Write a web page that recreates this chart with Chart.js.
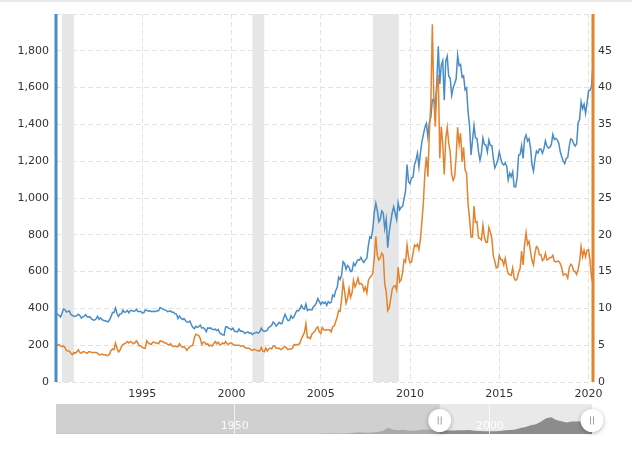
<!DOCTYPE html>
<html>
<head>
<meta charset="utf-8">
<script src="https://cdn.jsdelivr.net/npm/chart.js@4.4.0/dist/chart.umd.min.js"></script>
<style>
  body { margin: 0; background: #fff; }
  #wrap { position: relative; width: 632px; height: 455px; }
  #topline { position: absolute; left: 0; top: 0; width: 632px; height: 2px; background: #ebebeb; }
  #main { position: absolute; left: 0; top: 0; width: 632px; height: 400px; }
  #nav { position: absolute; left: 0; top: 404px; width: 632px; height: 41px; }
</style>
</head>
<body>
<div id="wrap">
  <div id="topline"></div>
  <div id="main"><canvas id="chart"></canvas></div>
  <div id="nav"><canvas id="navigator"></canvas></div>
</div>
<script>
// monthly closes, Mar 1990 .. Apr 2020
var firstYear = 1990, firstMonth = 3;

var gold = [
  375, 368, 363, 353, 372, 397, 393, 381, 383, 386,
  366, 363, 356, 357, 361, 368, 362, 347, 354, 358, 366, 353,
  354, 353, 341, 337, 337, 344, 357, 340, 349, 339, 334, 333,
  330, 327, 338, 355, 378, 378, 402, 372, 356, 370, 371, 391,
  378, 381, 389, 376, 388, 388, 384, 385, 395, 383, 383, 383,
  375, 376, 392, 389, 385, 387, 383, 383, 384, 383, 387, 387,
  405, 400, 396, 392, 390, 382, 385, 387, 379, 379, 371, 369,
  345, 358, 348, 340, 345, 334, 326, 325, 332, 311, 296, 290,
  303, 297, 301, 309, 293, 296, 288, 273, 294, 292, 294, 287,
  285, 287, 280, 286, 268, 262, 256, 255, 299, 300, 292, 290,
  284, 293, 276, 275, 273, 288, 276, 277, 273, 264, 270, 273,
  265, 267, 258, 264, 268, 270, 266, 273, 293, 279, 275, 277,
  282, 297, 301, 308, 326, 318, 304, 313, 324, 317, 319, 347,
  368, 347, 334, 336, 361, 346, 354, 375, 388, 386, 398, 417,
  400, 396, 424, 388, 393, 395, 391, 408, 416, 429, 453, 438,
  422, 435, 427, 435, 417, 437, 429, 433, 473, 465, 496, 513,
  569, 557, 582, 654, 643, 613, 633, 623, 600, 604, 646, 632,
  650, 665, 662, 677, 659, 650, 665, 673, 743, 789, 783, 834,
  923, 971, 933, 871, 885, 930, 919, 834, 884, 730, 814, 870,
  919, 952, 917, 884, 975, 935, 949, 955, 996, 1040, 1182, 1088,
  1078, 1109, 1113, 1180, 1207, 1244, 1169, 1246, 1307, 1346, 1384, 1405,
  1333, 1411, 1439, 1535, 1536, 1505, 1628, 1825, 1620, 1722, 1746, 1531,
  1744, 1770, 1662, 1651, 1558, 1598, 1622, 1648, 1776, 1719, 1726, 1657,
  1664, 1588, 1598, 1469, 1394, 1234, 1314, 1394, 1326, 1324, 1253, 1205,
  1244, 1326, 1291, 1288, 1250, 1315, 1285, 1285, 1216, 1164, 1182, 1206,
  1251, 1214, 1187, 1180, 1191, 1171, 1098, 1135, 1115, 1142, 1061, 1060,
  1111, 1234, 1237, 1285, 1215, 1321, 1342, 1309, 1322, 1273, 1178, 1146,
  1212, 1255, 1245, 1266, 1266, 1243, 1267, 1311, 1283, 1271, 1275, 1291,
  1345, 1318, 1325, 1316, 1298, 1251, 1224, 1201, 1187, 1215, 1220, 1279,
  1321, 1316, 1295, 1282, 1295, 1409, 1427, 1523, 1485, 1510, 1460, 1515,
  1582, 1585, 1608, 1725
];

var silver = [
  5.0, 5.0, 5.1, 4.9, 4.8, 4.9, 4.7, 4.3, 4.2, 4.2,
  3.9, 3.7, 4.0, 3.9, 4.1, 4.4, 4.0, 3.9, 4.1, 4.1, 4.0, 3.9,
  4.1, 4.1, 4.0, 4.0, 4.0, 4.0, 3.9, 3.7, 3.7, 3.8, 3.7, 3.7,
  3.6, 3.6, 3.8, 4.3, 4.5, 4.4, 5.3, 4.6, 4.1, 4.3, 4.8, 5.1,
  5.2, 5.3, 5.5, 5.3, 5.5, 5.4, 5.2, 5.3, 5.6, 5.3, 4.9, 4.9,
  4.7, 4.6, 4.6, 5.6, 5.3, 5.2, 5.1, 5.4, 5.4, 5.3, 5.3, 5.2,
  5.6, 5.5, 5.5, 5.3, 5.3, 5.1, 5.0, 5.2, 4.9, 4.8, 4.9, 4.8,
  4.8, 5.2, 4.9, 4.7, 4.8, 4.6, 4.3, 4.6, 4.8, 4.9, 5.0, 6.0,
  6.5, 6.4, 6.3, 5.9, 5.1, 5.4, 5.4, 5.1, 5.2, 4.9, 5.0, 4.9,
  5.2, 5.5, 5.2, 5.4, 5.1, 5.1, 5.3, 5.2, 5.5, 5.2, 5.1, 5.3,
  5.3, 5.1, 5.0, 5.0, 5.0, 5.0, 4.9, 4.9, 4.9, 4.7, 4.6, 4.6,
  4.6, 4.4, 4.3, 4.4, 4.4, 4.3, 4.2, 4.2, 4.7, 4.2, 4.1, 4.6,
  4.2, 4.5, 4.6, 4.5, 4.9, 4.9, 4.6, 4.6, 4.6, 4.4, 4.5, 4.7,
  4.8, 4.6, 4.4, 4.5, 4.5, 4.6, 5.1, 5.0, 5.1, 5.1, 5.3, 5.9,
  6.3, 6.7, 7.9, 6.0, 6.1, 5.9, 6.5, 6.7, 6.9, 7.3, 7.5, 6.8,
  6.6, 7.4, 7.1, 7.0, 7.1, 7.1, 7.1, 6.8, 7.5, 7.6, 8.2, 8.8,
  9.7, 9.6, 11.2, 13.6, 12.3, 10.7, 11.4, 12.7, 11.5, 12.1, 13.8, 12.9,
  13.4, 14.1, 13.3, 13.4, 13.2, 12.4, 12.9, 12.1, 13.8, 14.2, 14.4, 14.8,
  16.9, 19.8, 17.2, 16.6, 16.9, 17.5, 17.2, 13.4, 12.2, 9.7, 10.1, 11.3,
  12.6, 13.0, 13.1, 12.5, 15.6, 13.6, 13.9, 14.9, 16.6, 16.3, 18.6, 16.9,
  16.2, 16.3, 17.5, 18.6, 18.4, 18.7, 18.0, 19.4, 21.8, 24.5, 28.5, 30.6,
  27.9, 33.9, 37.9, 48.6, 38.3, 34.7, 40.0, 41.7, 30.4, 34.7, 32.3, 28.2,
  33.1, 34.6, 32.5, 31.2, 28.2, 27.4, 27.9, 30.6, 34.6, 32.3, 33.8, 29.9,
  31.9, 28.8, 28.4, 24.2, 22.3, 19.7, 19.7, 23.9, 21.7, 21.8, 19.6, 19.5,
  19.3, 21.3, 19.7, 19.0, 19.0, 21.0, 20.4, 19.5, 17.1, 16.4, 15.5, 15.6,
  17.2, 16.6, 16.6, 15.9, 16.8, 15.6, 14.7, 14.6, 14.5, 15.5, 14.1, 13.8,
  14.0, 14.9, 15.4, 17.8, 15.9, 18.6, 20.3, 18.7, 19.1, 17.7, 16.5, 15.9,
  17.5, 18.4, 18.2, 17.3, 17.3, 16.5, 16.7, 17.5, 16.6, 16.7, 16.9, 16.9,
  17.2, 16.4, 16.3, 16.4, 16.4, 16.1, 15.5, 14.5, 14.7, 14.6, 14.1, 15.5,
  16.0, 15.8, 15.1, 15.0, 14.6, 15.3, 16.4, 18.4, 17.0, 17.9, 17.0, 17.9,
  18.0, 16.5, 14.2, 15.2
];

// recessions (decimal years)
var recessionStart = [1990.5, 2001.17, 2007.92];
var recessionEnd = [1991.17, 2001.83, 2009.37];

var yearTicks = [1995, 2000, 2005, 2010, 2015, 2020];
var navTicks = [1950, 2000];

// navigator: yearly gold, 1915 .. 2020
var navYears = [];
for (var y = 1915; y <= 2020; y++) navYears.push(y);
var navGold = [
  20.67, 20.67, 20.67, 20.67, 20.67, 20.67, 20.67, 20.67, 20.67, 20.67,
  20.67, 20.67, 20.67, 20.67, 20.67, 20.67, 20.67, 20.67, 26.3, 34.7,
  35, 35, 35, 35, 35, 35, 35, 35, 35, 35,
  35, 35, 35, 35, 35, 35, 35, 35, 35, 35,
  35, 35, 35, 35, 35, 35, 35, 35, 35, 35,
  35, 35, 35, 39.3, 41.3, 36.0, 40.8, 58.2, 97.3, 154,
  161, 125, 148, 193, 306, 615, 460, 376, 424, 361,
  317, 368, 447, 437, 381, 383, 362, 344, 360, 384,
  384, 388, 331, 294, 279, 279, 271, 310, 363, 410,
  445, 604, 696, 872, 972, 1225, 1572, 1669, 1411, 1266,
  1160, 1251, 1257, 1268, 1393, 1720
];

var months = [];
for (var i = 0; i < gold.length; i++) {
  months.push(firstYear + (firstMonth - 1 + i) / 12);
}

var blue = '#4a8cc6';
var orange = '#e3832f';
var font = { family: "'DejaVu Sans', Verdana, sans-serif", size: 11 };

var recessions = {
  id: 'recessions',
  beforeDatasetsDraw: function (chart) {
    var ctx = chart.ctx, a = chart.chartArea, x = chart.scales.x;
    ctx.save();
    ctx.fillStyle = '#e6e6e6';
    for (var i = 0; i < recessionStart.length; i++) {
      var x1 = x.getPixelForValue(recessionStart[i]);
      var x2 = x.getPixelForValue(recessionEnd[i]);
      ctx.fillRect(x1, a.top, x2 - x1, a.bottom - a.top);
    }
    ctx.restore();
  },
  afterDraw: function (chart) {
    // coloured axis lines
    var ctx = chart.ctx, a = chart.chartArea;
    ctx.save();
    ctx.lineWidth = 3;
    ctx.strokeStyle = blue;
    ctx.beginPath(); ctx.moveTo(a.left, a.top); ctx.lineTo(a.left, a.bottom); ctx.stroke();
    ctx.strokeStyle = orange;
    ctx.beginPath(); ctx.moveTo(a.right, a.top); ctx.lineTo(a.right, a.bottom); ctx.stroke();
    ctx.restore();
  }
};

new Chart(document.getElementById('chart'), {
  type: 'line',
  data: {
    labels: months,
    datasets: [{
      label: 'Gold',
      data: gold,
      yAxisID: 'y',
      borderColor: blue,
      borderWidth: 1.5,
      pointRadius: 0,
      tension: 0,
      order: 2
    }, {
      label: 'Silver',
      data: silver,
      yAxisID: 'y1',
      borderColor: orange,
      borderWidth: 1.5,
      pointRadius: 0,
      tension: 0,
      order: 1
    }]
  },
  options: {
    responsive: true,
    maintainAspectRatio: false,
    animation: false,
    layout: { padding: { top: 14 } },
    plugins: { legend: { display: false }, tooltip: { enabled: false } },
    scales: {
      x: {
        type: 'linear',
        min: months[0],
        max: months[months.length - 1],
        afterBuildTicks: function (s) { s.ticks = yearTicks.map(function (v) { return { value: v }; }); },
        afterFit: function (s) { s.height = 18; },
        grid: { color: '#e2e2e2', drawTicks: false },
        border: { display: false, dash: [5, 3] },
        ticks: { font: font, color: '#333', padding: 6, maxRotation: 0, autoSkip: false,
          callback: function (v) { return String(v); } }
      },
      y: {
        position: 'left',
        min: 0, max: 2000,
        afterFit: function (s) { s.width = 56; },
        grid: { color: '#e2e2e2', drawTicks: false },
        border: { display: false, dash: [5, 3] },
        ticks: { stepSize: 200, font: font, color: '#333', padding: 7,
          callback: function (v) { return v === 2000 ? '' : v.toLocaleString('en-US'); } }
      },
      y1: {
        position: 'right',
        min: 0, max: 50,
        afterFit: function (s) { s.width = 39; },
        grid: { drawOnChartArea: false, drawTicks: false },
        border: { display: false },
        ticks: { stepSize: 5, font: font, color: '#333', padding: 5,
          callback: function (v) { return v === 50 ? '' : String(v); } }
      }
    }
  },
  plugins: [recessions]
});

var navParts = {
  id: 'navParts',
  beforeDatasetsDraw: function (chart) {
    var ctx = chart.ctx, a = chart.chartArea;
    ctx.save();
    ctx.fillStyle = '#e9e9e9';
    ctx.fillRect(a.left, a.top, a.right - a.left, a.bottom - a.top);
    ctx.restore();
  },
  afterDatasetsDraw: function (chart) {
    var ctx = chart.ctx, a = chart.chartArea, x = chart.scales.x;
    var left = x.getPixelForValue(months[0]);
    ctx.save();
    ctx.fillStyle = 'rgba(190,190,190,0.58)';
    ctx.fillRect(a.left, a.top, left - a.left, a.bottom - a.top);
    ctx.restore();
  },
  afterDraw: function (chart) {
    var ctx = chart.ctx, a = chart.chartArea, x = chart.scales.x;
    // year labels inside the navigator
    ctx.save();
    ctx.font = "11px 'DejaVu Sans', Verdana, sans-serif";
    ctx.fillStyle = 'rgba(255,255,255,0.9)';
    ctx.textAlign = 'center';
    ctx.textBaseline = 'middle';
    navTicks.forEach(function (t) {
      ctx.fillText(String(t), x.getPixelForValue(t), a.bottom - 8);
    });
    ctx.restore();

    // range handles
    var xs = [x.getPixelForValue(months[0]), Math.min(a.right, x.getPixelForValue(months[months.length - 1]))];
    var cy = (a.top + a.bottom) / 2 + 1.5;
    ctx.save();
    xs.forEach(function (hx) {
      ctx.save();
      ctx.shadowColor = 'rgba(0,0,0,0.3)';
      ctx.shadowBlur = 4;
      ctx.shadowOffsetY = 1;
      ctx.fillStyle = '#fff';
      ctx.beginPath(); ctx.arc(hx, cy, 11.5, 0, Math.PI * 2); ctx.fill();
      ctx.restore();
      ctx.strokeStyle = '#a0a0a0';
      ctx.lineWidth = 1;
      ctx.beginPath();
      ctx.moveTo(hx - 1.5, cy - 4); ctx.lineTo(hx - 1.5, cy + 4);
      ctx.moveTo(hx + 1.5, cy - 4); ctx.lineTo(hx + 1.5, cy + 4);
      ctx.stroke();
    });
    ctx.restore();
  }
};

new Chart(document.getElementById('navigator'), {
  type: 'line',
  data: {
    labels: navYears,
    datasets: [{
      data: navGold,
      borderWidth: 0,
      borderColor: 'rgba(0,0,0,0)',
      backgroundColor: '#8c8c8c',
      fill: 'origin',
      pointRadius: 0,
      tension: 0
    }]
  },
  options: {
    responsive: true,
    maintainAspectRatio: false,
    animation: false,
    layout: { padding: { left: 56, right: 40, top: 0, bottom: 11 } },
    plugins: { legend: { display: false }, tooltip: { enabled: false } },
    scales: {
      x: {
        type: 'linear',
        min: 1915, max: 2020,
        afterBuildTicks: function (s) { s.ticks = navTicks.map(function (v) { return { value: v }; }); },
        afterFit: function (s) { s.height = 0; },
        grid: { color: 'rgba(255,255,255,0.75)', drawTicks: false, z: 1 },
        border: { display: false },
        ticks: { display: false }
      },
      y: { display: false, min: 0, max: 3000 }
    }
  },
  plugins: [navParts]
});
</script>
</body>
</html>
